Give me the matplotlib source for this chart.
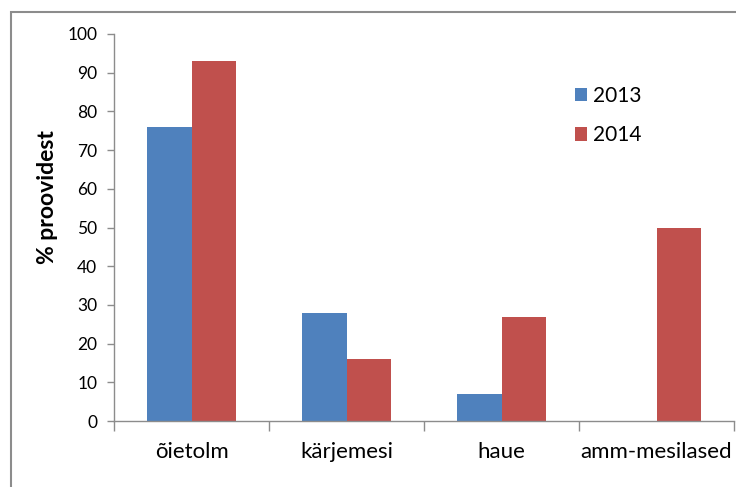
import matplotlib
matplotlib.use("Agg")
import matplotlib.pyplot as plt
from matplotlib.patches import Rectangle
from matplotlib.ticker import FixedLocator, MultipleLocator
import numpy as np

categories = ["õietolm", "kärjemesi", "haue", "amm-mesilased"]
values_2013 = [76, 28, 7, 0]
values_2014 = [93, 16, 27, 50]
series_labels = ["2013", "2014"]
colors = ["#4F81BD", "#C0504D"]

plt.rcParams["font.family"] = ["Lato", "DejaVu Sans"]

W, H = 736, 487
fig = plt.figure(figsize=(W / 100, H / 100), dpi=100)

# chart frame
fig.patches.append(Rectangle((11 / W, -0.1), 1.2, 1 - 12 / H + 0.1,
                             transform=fig.transFigure, fill=False,
                             edgecolor="#8c8c8c", linewidth=1.5))

ax = fig.add_axes([114 / W, 1 - 421 / H, (734 - 114) / W, (421 - 34) / H])

x = np.arange(len(categories))
bw = 1 / 3.5
ax.bar(x - bw / 2, values_2013, bw, color=colors[0], label=series_labels[0])
ax.bar(x + bw / 2, values_2014, bw, color=colors[1], label=series_labels[1])

ax.set_xlim(-0.5, len(categories) - 0.5)
ax.set_ylim(0, 100)
ax.yaxis.set_major_locator(MultipleLocator(10))

for s in ["top", "right"]:
    ax.spines[s].set_visible(False)
for s in ["left", "bottom"]:
    ax.spines[s].set_color("#8c8c8c")
    ax.spines[s].set_linewidth(1.0)

ax.set_xticks(np.arange(len(categories) + 1) - 0.5)
ax.set_xticklabels([])
ax.xaxis.set_minor_locator(FixedLocator(x))
ax.set_xticklabels(categories, minor=True)
ax.tick_params(axis="x", which="major", length=7, color="#8c8c8c", width=1)
ax.tick_params(axis="x", which="minor", length=0, pad=15, labelsize=16)
ax.tick_params(axis="y", length=5, color="#8c8c8c", width=1, labelsize=12.5, pad=7)

ax.set_ylabel("% proovidest", fontsize=16.5, fontweight="bold")
ax.yaxis.set_label_coords(-0.09, 0.579)

ax.legend(loc="upper left", bbox_to_anchor=(560 / W, 1 - 71 / H),
          bbox_transform=fig.transFigure, frameon=False,
          fontsize=15, handlelength=0.6, handleheight=0.6, labelspacing=0.95,
          handletextpad=0.3, borderpad=0.2)

fig.savefig("out.png", dpi=100)
